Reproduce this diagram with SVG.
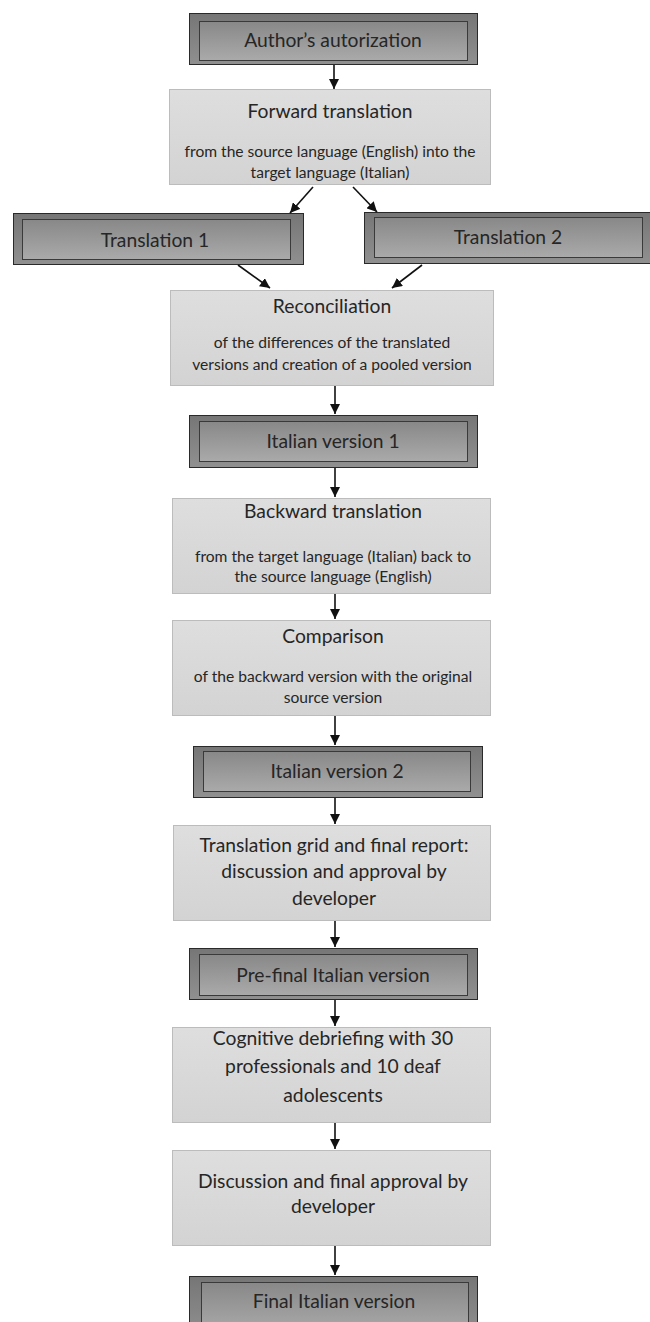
<svg xmlns="http://www.w3.org/2000/svg" width="650" height="1322" viewBox="0 0 650 1322">
<defs>
<linearGradient id="gLight" x1="0" y1="0" x2="0" y2="1">
<stop offset="0" stop-color="#dedede"/>
<stop offset="1" stop-color="#d3d3d3"/>
</linearGradient>
<linearGradient id="gOuter" x1="0" y1="0" x2="0" y2="1">
<stop offset="0" stop-color="#767676"/>
<stop offset="1" stop-color="#909090"/>
</linearGradient>
<linearGradient id="gInner" x1="0" y1="0" x2="0" y2="1">
<stop offset="0" stop-color="#888888"/>
<stop offset="1" stop-color="#aaaaaa"/>
</linearGradient>
<marker id="ah" markerUnits="userSpaceOnUse" markerWidth="10" markerHeight="10" viewBox="0 0 10 10" refX="10" refY="5" orient="auto">
<path d="M0,0 L10,5 L0,10 z" fill="#111"/>
</marker>
</defs>
<style>
.light{fill:url(#gLight);stroke:#bcbcbc;stroke-width:1}
.outer{fill:url(#gOuter);stroke:#2a2a2a;stroke-width:1}
.inner{fill:url(#gInner);stroke:#3a3a3a;stroke-width:1}
text{font-family:Lato,"Open Sans",sans-serif;fill:#262626;text-anchor:middle}
.h{font-size:19.3px}
.s{font-size:15.6px}
.c{stroke:#111;stroke-width:1.6;fill:none;marker-end:url(#ah)}
</style>
<rect width="650" height="1322" fill="#ffffff"/>

<g id="author">
<rect class="outer" x="189.5" y="13.5" width="288" height="51"/>
<rect class="inner" x="199.5" y="21.5" width="268" height="39"/>
<text class="h" x="333" y="47">Author’s autorization</text>
</g>

<g id="forward">
<rect class="light" x="169.5" y="89.5" width="321" height="95"/>
<text class="h" x="330" y="118">Forward translation</text>
<text class="s" x="330" y="157">from the source language (English) into the</text>
<text class="s" x="330" y="178">target language (Italian)</text>
</g>

<g id="translation1">
<rect class="outer" x="13.5" y="213.5" width="290" height="51"/>
<rect class="inner" x="22.5" y="219.5" width="268" height="40"/>
<text class="h" x="155" y="247">Translation 1</text>
</g>

<g id="translation2">
<rect class="outer" x="364.5" y="212.5" width="290" height="51"/>
<rect class="inner" x="374.5" y="217.5" width="268" height="40"/>
<text class="h" x="508" y="244">Translation 2</text>
</g>

<g id="reconciliation">
<rect class="light" x="170.5" y="290.5" width="323" height="95"/>
<text class="h" x="332" y="313">Reconciliation</text>
<text class="s" x="332" y="348">of the differences of the translated</text>
<text class="s" x="332" y="370">versions and creation of a pooled version</text>
</g>

<g id="italian1">
<rect class="outer" x="189.5" y="415.5" width="288" height="52"/>
<rect class="inner" x="199.5" y="421.5" width="268" height="40"/>
<text class="h" x="333" y="448">Italian version 1</text>
</g>

<g id="backward">
<rect class="light" x="172.5" y="498.5" width="318" height="95"/>
<text class="h" x="333" y="518">Backward translation</text>
<text class="s" x="333" y="562">from the target language (Italian) back to</text>
<text class="s" x="333" y="582">the source language (English)</text>
</g>

<g id="comparison">
<rect class="light" x="172.5" y="620.5" width="318" height="95"/>
<text class="h" x="333" y="643">Comparison</text>
<text class="s" x="333" y="682">of the backward version with the original</text>
<text class="s" x="333" y="703">source version</text>
</g>

<g id="italian2">
<rect class="outer" x="193.5" y="746.5" width="289" height="51"/>
<rect class="inner" x="203.5" y="751.5" width="267" height="40"/>
<text class="h" x="337" y="778">Italian version 2</text>
</g>

<g id="grid">
<rect class="light" x="173.5" y="825.5" width="317" height="95"/>
<text class="h" x="334" y="852">Translation grid and final report:</text>
<text class="h" x="334" y="878">discussion and approval by</text>
<text class="h" x="334" y="905">developer</text>
</g>

<g id="prefinal">
<rect class="outer" x="189.5" y="948.5" width="288" height="51"/>
<rect class="inner" x="199.5" y="954.5" width="268" height="41"/>
<text class="h" x="333" y="982">Pre-final Italian version</text>
</g>

<g id="cognitive">
<rect class="light" x="172.5" y="1027.5" width="318" height="95"/>
<text class="h" x="333" y="1045">Cognitive debriefing with 30</text>
<text class="h" x="333" y="1073">professionals and 10 deaf</text>
<text class="h" x="333" y="1102">adolescents</text>
</g>

<g id="discussion">
<rect class="light" x="172.5" y="1150.5" width="318" height="95"/>
<text class="h" x="333" y="1188">Discussion and final approval by</text>
<text class="h" x="333" y="1213">developer</text>
</g>

<g id="final">
<rect class="outer" x="189.5" y="1276.5" width="288" height="60"/>
<rect class="inner" x="201.5" y="1282.5" width="267" height="50"/>
<text class="h" x="334" y="1308">Final Italian version</text>
</g>

<g id="connectors">
<line class="c" x1="334" y1="65" x2="334" y2="89"/>
<line class="c" x1="313" y1="187" x2="290" y2="213"/>
<line class="c" x1="353" y1="187" x2="377" y2="212"/>
<line class="c" x1="238" y1="265" x2="270" y2="288"/>
<line class="c" x1="422" y1="265" x2="392" y2="288"/>
<line class="c" x1="335" y1="386" x2="335" y2="414"/>
<line class="c" x1="335" y1="468" x2="335" y2="497"/>
<line class="c" x1="335" y1="594" x2="335" y2="619"/>
<line class="c" x1="335" y1="716" x2="335" y2="745"/>
<line class="c" x1="335" y1="798" x2="335" y2="824"/>
<line class="c" x1="335" y1="921" x2="335" y2="947"/>
<line class="c" x1="335" y1="1000" x2="335" y2="1026"/>
<line class="c" x1="335" y1="1123" x2="335" y2="1149"/>
<line class="c" x1="335" y1="1246" x2="335" y2="1275"/>
</g>
</svg>
